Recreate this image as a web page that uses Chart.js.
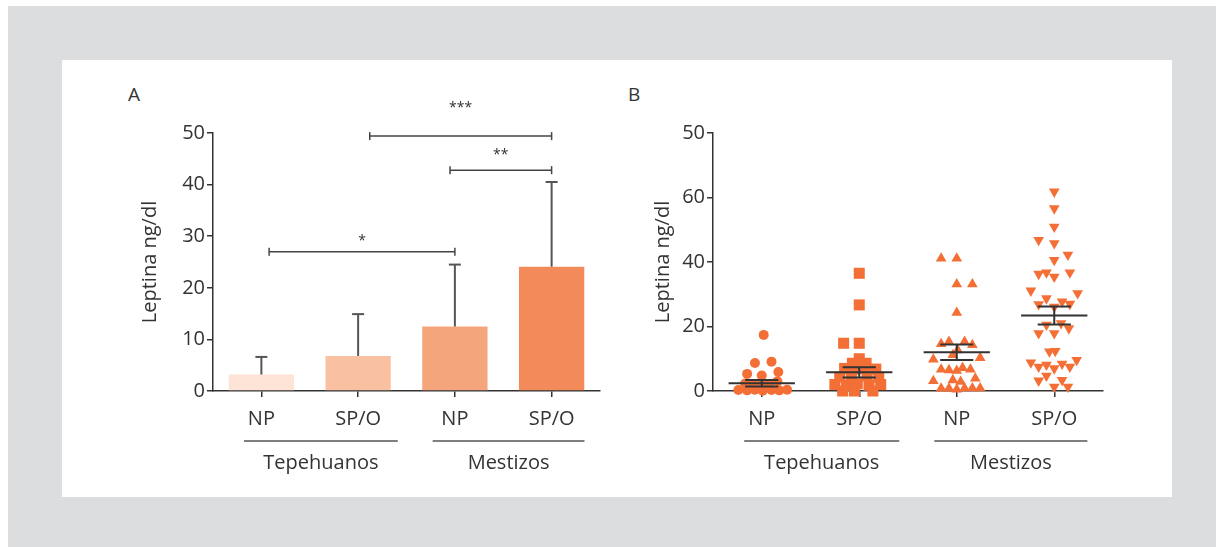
<!DOCTYPE html>
<html>
<head>
<meta charset="utf-8">
<script src="https://cdn.jsdelivr.net/npm/chart.js@4.4.1/dist/chart.umd.min.js"></script>
<style>
  body { margin: 0; background: #fff; font-family: "Open Sans", sans-serif; }
  #frame { position: absolute; left: 8px; top: 6px; width: 1208px; height: 541px; background: #dcdddf; }
  #panel { position: absolute; left: 62px; top: 60px; width: 1110px; height: 437px; background: #fff; }
  canvas { position: absolute; }
  .tag { position: absolute; font-size: 19px; color: #333; }
</style>
</head>
<body>
<div id="frame"></div>
<div id="panel"></div>
<div class="tag" style="left:128px;top:81px;">A</div>
<div class="tag" style="left:628px;top:81px;">B</div>
<canvas id="chartA" width="520" height="390" style="left:100px;top:100px;"></canvas>
<canvas id="chartB" width="520" height="390" style="left:600px;top:100px;"></canvas>
<script>
// --- data ---
const categories = ['NP', 'SP/O', 'NP', 'SP/O'];
const groups = ['Tepehuanos', 'Mestizos'];
const groupSpans = [[-0.18, 1.41], [1.77, 3.34]];

// panel A: mean and SD
const meanA = [3.2, 6.8, 12.5, 24.1];
const sdA = [3.4, 8.1, 12.0, 16.4];
const barColors = ['#fde4d6', '#f9c1a1', '#f5a57c', '#f28b59'];

// significance brackets (from, to in category units, y of line and label)
const sigFrom = [0.08, 1.95, 1.12];
const sigTo = [2.0, 3.0, 3.0];
const sigLineY = [27.0, 42.8, 49.4];
const sigLabelY = [29.6, 46.4, 55.4];
const sigText = ['*', '**', '***'];

// panel B: individual values and their horizontal spread
const tepNP = [17.4, 8.7, 9.1, 5.3, 4.8, 5.9, 3.0, 2.3, 2.1, 2.4, 2.2, 0.3, 0.2, 0.4, 0.1, 0.3, 0.2, 0.4];
const tepNPSpread = [0.02, -0.07, 0.10, -0.15, 0.00, 0.17, 0.16, -0.17, -0.09, 0.00, 0.08, -0.24, -0.15, -0.07, 0.01, 0.10, 0.18, 0.26];
const tepSP = [36.5, 26.7, 14.8, 14.8, 10.0, 8.6, 8.6, 7.0, 6.8, 7.0, 6.8, 4.3, 4.6, 4.6, 4.3, 2.0, 1.8, 2.2, 1.8, 2.0, 0.0, 0.0, 0.0];
const tepSPSpread = [0.00, 0.00, -0.16, 0.00, 0.00, -0.07, 0.07, -0.15, -0.05, 0.06, 0.17, -0.20, -0.08, 0.08, 0.20, -0.25, -0.13, -0.02, 0.10, 0.22, -0.17, -0.05, 0.14];
const mesNP = [41.1, 41.1, 33.1, 33.1, 24.3, 14.6, 15.3, 15.3, 14.3, 12.7, 11.2, 9.8, 10.3, 6.7, 6.5, 6.3, 7.2, 6.7, 3.1, 3.4, 2.9, 3.9, 0.8, 0.8, 0.5, 0.9, 0.9, 0.9];
const mesNPSpread = [-0.16, 0.00, 0.00, 0.16, 0.00, -0.16, -0.08, 0.08, 0.16, 0.01, -0.04, -0.24, 0.24, -0.16, -0.08, 0.00, 0.06, 0.14, -0.24, -0.04, 0.04, 0.19, -0.16, -0.08, 0.00, 0.08, 0.16, 0.24];
const mesSP = [61.8, 56.6, 50.9, 46.8, 45.8, 42.2, 40.6, 36.3, 36.7, 35.4, 36.7, 31.1, 30.3, 28.7, 27.7, 26.9, 26.1, 27.0, 20.5, 21.0, 19.4, 17.9, 17.9, 12.2, 12.4, 8.8, 7.5, 8.1, 7.0, 8.4, 7.5, 9.6, 3.2, 4.7, 3.4, 1.3, 1.3];
const mesSPSpread = [0, 0, 0, -0.16, 0, 0.14, 0, -0.16, -0.08, 0, 0.16, -0.24, 0.24, -0.08, 0.08, -0.16, 0, 0.16, -0.08, 0.07, 0.15, -0.16, 0, -0.05, 0.01, -0.24, -0.16, -0.08, 0, 0.08, 0.16, 0.23, -0.16, -0.08, 0.08, 0, 0.14];
const meanB = [2.4, 5.8, 12.0, 23.4];
const semB = [1.0, 1.6, 2.4, 2.8];
const yTicksB = [0, 20, 40, 60, 80];
const yTickLabelsB = ['0', '20', '40', '60', '50'];

const TEXT = '#333';
const AXIS = '#333';
const POINT = '#f36f36';
const FONT = '"Open Sans", sans-serif';
const SIZE = 20;

// --- helpers ---
function seg(ctx, x1, y1, x2, y2) {
    ctx.beginPath();
    ctx.moveTo(x1, y1);
    ctx.lineTo(x2, y2);
    ctx.stroke();
}

// group names with the line above them, under the category labels
const groupLabels = {
    id: 'groupLabels',
    afterDraw(chart) {
        const { ctx, scales: { x } } = chart;
        ctx.save();
        ctx.strokeStyle = '#555';
        ctx.lineWidth = 1.5;
        ctx.fillStyle = TEXT;
        ctx.font = SIZE + 'px ' + FONT;
        ctx.textAlign = 'center';
        ctx.textBaseline = 'middle';
        groups.forEach((g, i) => {
            const x1 = x.getPixelForValue(groupSpans[i][0]);
            const x2 = x.getPixelForValue(groupSpans[i][1]);
            seg(ctx, x1, x.top + 50, x2, x.top + 50);
            ctx.fillText(g, (x1 + x2) / 2, x.top + 72);
        });
        ctx.restore();
    }
};

// SD whiskers and significance brackets for panel A
const barExtras = {
    id: 'barExtras',
    afterDatasetsDraw(chart) {
        const { ctx, scales: { x, y } } = chart;
        ctx.save();
        ctx.strokeStyle = '#555';
        ctx.lineWidth = 2;
        meanA.forEach((m, i) => {
            const px = x.getPixelForValue(i);
            const top = y.getPixelForValue(m + sdA[i]);
            seg(ctx, px, y.getPixelForValue(m), px, top);
            seg(ctx, px - 6, top, px + 6, top);
        });
        ctx.strokeStyle = '#444';
        ctx.lineWidth = 1.5;
        ctx.fillStyle = TEXT;
        ctx.font = '14px ' + FONT;
        ctx.textAlign = 'center';
        ctx.textBaseline = 'middle';
        sigText.forEach((t, i) => {
            const x1 = x.getPixelForValue(sigFrom[i]);
            const x2 = x.getPixelForValue(sigTo[i]);
            const py = y.getPixelForValue(sigLineY[i]);
            seg(ctx, x1, py, x2, py);
            seg(ctx, x1, py - 4, x1, py + 4);
            seg(ctx, x2, py - 4, x2, py + 4);
            ctx.fillText(t, (x1 + x2) / 2, y.getPixelForValue(sigLabelY[i]) + 3);
        });
        ctx.restore();
    }
};

// mean +/- SEM lines on top of the points in panel B
const meanLines = {
    id: 'meanLines',
    afterDatasetsDraw(chart) {
        const { ctx, scales: { x, y } } = chart;
        ctx.save();
        ctx.strokeStyle = '#333';
        ctx.lineWidth = 2;
        meanB.forEach((m, i) => {
            const pm = y.getPixelForValue(m);
            const hi = y.getPixelForValue(m + semB[i]);
            const lo = y.getPixelForValue(m - semB[i]);
            seg(ctx, x.getPixelForValue(i - 0.34), pm, x.getPixelForValue(i + 0.34), pm);
            seg(ctx, x.getPixelForValue(i - 0.17), hi, x.getPixelForValue(i + 0.17), hi);
            seg(ctx, x.getPixelForValue(i - 0.17), lo, x.getPixelForValue(i + 0.17), lo);
            seg(ctx, x.getPixelForValue(i), hi, x.getPixelForValue(i), lo);
        });
        ctx.restore();
    }
};

Chart.defaults.font.family = FONT;
Chart.defaults.color = TEXT;

function yAxis(max, step, titlePad) {
    return {
        min: 0, max: max,
        ticks: { stepSize: step, font: { size: SIZE }, color: TEXT, padding: 2 },
        grid: { drawOnChartArea: false, tickLength: 6, color: AXIS, lineWidth: 1.5 },
        border: { color: AXIS, width: 1.5 },
        title: { display: true, text: 'Leptina ng/dl', font: { size: SIZE }, color: TEXT, padding: { top: titlePad } },
        afterFit(s) { s.width = 113; }
    };
}

// --- panel A: bars ---
new Chart(document.getElementById('chartA'), {
    type: 'bar',
    data: {
        labels: categories,
        datasets: [{
            data: meanA,
            backgroundColor: barColors,
            borderWidth: 0,
            barPercentage: 0.675,
            categoryPercentage: 1
        }]
    },
    options: {
        responsive: false,
        animation: false,
        layout: { padding: { top: 33, right: 20, left: 0, bottom: 0 } },
        plugins: { legend: { display: false }, tooltip: { enabled: false } },
        scales: {
            x: {
                ticks: { font: { size: SIZE }, color: TEXT, padding: 10 },
                grid: { offset: false, drawOnChartArea: false, tickLength: 6, color: AXIS, lineWidth: 1.5 },
                border: { color: AXIS, width: 1.5 },
                afterFit(s) { s.height = 99; }
            },
            y: yAxis(50, 10, 38)
        }
    },
    plugins: [barExtras, groupLabels]
});

// --- panel B: individual values ---
const sets = [
    [tepNP, tepNPSpread, 'circle', 5, 0],
    [tepSP, tepSPSpread, 'rect', 7.8, 0],
    [mesNP, mesNPSpread, 'triangle', 6.2, 0],
    [mesSP, mesSPSpread, 'triangle', 6.2, 180]
];

new Chart(document.getElementById('chartB'), {
    type: 'scatter',
    data: {
        datasets: sets.map(([vals, spread, style, r, rot], i) => ({
            data: vals.map((v, k) => ({ x: i + spread[k], y: v })),
            pointStyle: style,
            pointRadius: r,
            pointRotation: rot,
            backgroundColor: POINT,
            borderColor: POINT,
            borderWidth: 0,
            clip: false
        }))
    },
    options: {
        responsive: false,
        animation: false,
        layout: { padding: { top: 33, right: 17, left: 0, bottom: 0 } },
        plugins: { legend: { display: false }, tooltip: { enabled: false } },
        scales: {
            x: {
                type: 'linear',
                min: -0.5, max: 3.5,
                afterBuildTicks(s) { s.ticks = categories.map((c, i) => ({ value: i })); },
                ticks: { font: { size: SIZE }, color: TEXT, padding: 10, callback: v => categories[v] },
                grid: { drawOnChartArea: false, tickLength: 6, color: AXIS, lineWidth: 1.5 },
                border: { color: AXIS, width: 1.5 },
                afterFit(s) { s.height = 99; }
            },
            y: Object.assign(yAxis(80, 20, 51), {
                afterBuildTicks(s) { s.ticks = yTicksB.map(v => ({ value: v })); }
            })
        }
    },
    plugins: [meanLines, groupLabels]
});
// y tick labels of panel B follow the figure's printed labels
Chart.getChart('chartB').options.scales.y.ticks.callback = v => yTickLabelsB[yTicksB.indexOf(v)];
Chart.getChart('chartB').update();
</script>
</body>
</html>
